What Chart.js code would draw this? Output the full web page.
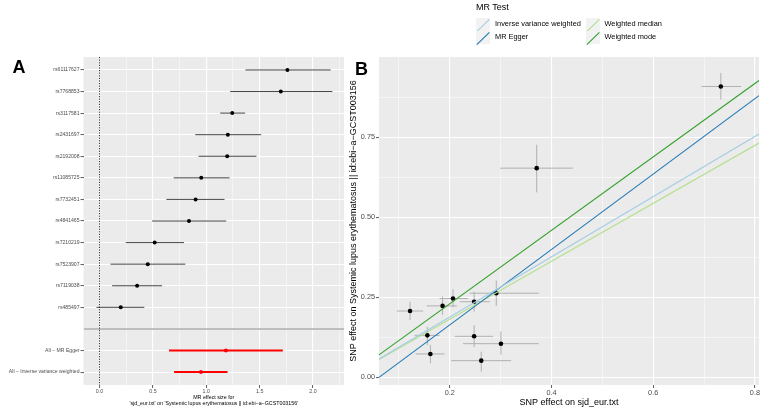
<!DOCTYPE html>
<html><head><meta charset="utf-8">
<script src="https://cdn.jsdelivr.net/npm/chart.js@4"></script>
<style>
html,body{margin:0;padding:0;background:#fff;}
body{width:763px;height:410px;position:relative;overflow:hidden;font-family:"Liberation Sans",Arial,sans-serif;}
canvas{position:absolute;top:0;}
#ca{left:0;}
#cb{left:340px;}
.t{position:absolute;white-space:nowrap;color:#000;}
.key{position:absolute;width:14px;height:13px;background:#F2F2F2;}
</style></head><body>
<canvas id="ca" width="350" height="410"></canvas>
<canvas id="cb" width="423" height="410"></canvas>
<div class="t" style="left:12.5px;top:57.6px;font-size:18px;line-height:18px;font-weight:bold;">A</div>
<div class="t" style="left:355px;top:60.3px;font-size:18px;line-height:18px;font-weight:bold;">B</div>
<div id="legend"></div>
<script>
// ---------- Panel A data (forest plot) ----------
const snpLabels = ['rs61117627','rs7768853','rs3117581','rs2431697','rs2192008','rs11085725','rs7732451','rs4841465','rs7210219','rs7523907','rs7119038','rs485497'];
const snpEffect = [1.760,1.698,1.243,1.202,1.196,0.953,0.900,0.838,0.517,0.452,0.352,0.199];
const snpLow    = [1.367,1.224,1.131,0.897,0.928,0.695,0.626,0.492,0.246,0.103,0.118,-0.028];
const snpHigh   = [2.165,2.181,1.364,1.514,1.470,1.218,1.171,1.187,0.791,0.804,0.586,0.420];
const summaryLabels = ['All \u2212 MR Egger','All \u2212 Inverse variance weighted'];
const summaryEffect = [1.184,0.950];
const summaryLow    = [0.651,0.698];
const summaryHigh   = [1.717,1.199];
const forestGrid  = [0,0.25,0.5,0.75,1,1.25,1.5,1.75,2,2.25];
const forestMajor = [0,0.5,1,1.5,2];
const forestTitle = ['MR effect size for', "'sjd_eur.txt' on 'Systemic lupus erythematosus || id:ebi\u2212a\u2212GCST003156'"];

// ---------- Panel B data (scatter) ----------
const bx   = [0.122,0.186,0.2065,0.248,0.2915,0.156,0.162,0.248,0.3007,0.262,0.371,0.733];
const by   = [0.207,0.223,0.246,0.236,0.2625,0.131,0.073,0.128,0.105,0.052,0.653,0.908];
const bxLo = [0.096,0.155,0.180,0.220,0.239,0.131,0.133,0.210,0.226,0.203,0.299,0.695];
const bxHi = [0.148,0.214,0.236,0.279,0.375,0.180,0.190,0.285,0.375,0.321,0.442,0.773];
const byLo = [0.179,0.195,0.219,0.205,0.223,0.101,0.044,0.094,0.070,0.0175,0.577,0.867];
const byHi = [0.236,0.252,0.275,0.268,0.302,0.158,0.101,0.163,0.143,0.080,0.726,0.950];
const methodNames     = ['Inverse variance weighted','MR Egger','Weighted median','Weighted mode'];
const methodSlope     = [0.940,1.177,0.905,1.147];
const methodIntercept = [0,-0.0718,0,0];
const methodColors    = ['#A6CEE3','#1F78B4','#B2DF8A','#33A02C'];
const bXGrid  = [0.1,0.2,0.3,0.4,0.5,0.6,0.7,0.8];
const bXMajor = [0.2,0.4,0.6,0.8];
const bYGrid  = [0,0.125,0.25,0.375,0.5,0.625,0.75,0.875];
const bYMajor = [0,0.25,0.5,0.75];
const bXTitle = 'SNP effect on sjd_eur.txt';
const bYTitle = 'SNP effect on Systemic lupus erythematosus || id:ebi\u2212a\u2212GCST003156';

const FONT = '"Liberation Sans", Arial, sans-serif';
const isIn = (v, arr) => arr.some(a => Math.abs(a - v) < 1e-9);

const bgPlugin = {
  id: 'panelBg',
  beforeDraw(chart) {
    const {ctx, chartArea: a} = chart;
    ctx.save();
    ctx.fillStyle = '#EBEBEB';
    ctx.fillRect(a.left, a.top, a.right - a.left, a.bottom - a.top);
    ctx.restore();
  }
};

// ---------- Panel A ----------
const rowLabels = [...snpLabels, '', ...summaryLabels];
const blankRow = snpLabels.length + 1;
const forestRows = [];
snpLabels.forEach((l, i) => forestRows.push({row: i + 1, eff: snpEffect[i], lo: snpLow[i], hi: snpHigh[i], summary: false}));
summaryLabels.forEach((l, i) => forestRows.push({row: blankRow + 1 + i, eff: summaryEffect[i], lo: summaryLow[i], hi: summaryHigh[i], summary: true}));
const yMinA = 0.4, yMaxA = rowLabels.length + 0.6;

const dsA = [];
dsA.push({
  data: forestRows.map(r => ({x: r.eff, y: r.row})),
  pointRadius: 2, pointBorderWidth: 0,
  pointBackgroundColor: forestRows.map(r => r.summary ? '#FF0000' : '#000000'),
  order: 0
});
forestRows.forEach(r => dsA.push({
  data: [{x: r.lo, y: r.row}, {x: r.hi, y: r.row}],
  showLine: true, pointRadius: 0,
  borderColor: r.summary ? '#FF0000' : 'rgba(0,0,0,0.72)',
  borderWidth: r.summary ? 2 : 1,
  order: 1
}));
dsA.push({
  data: [{x: 0, y: yMinA}, {x: 0, y: yMaxA}],
  showLine: true, pointRadius: 0, borderColor: '#000', borderWidth: 0.8,
  borderDash: [1.2, 1.4], order: 2
});

new Chart(document.getElementById('ca'), {
  type: 'scatter',
  data: {datasets: dsA},
  options: {
    responsive: false, animation: false, events: [],
    layout: {padding: {left: 0, right: 6, top: 57, bottom: 0}},
    plugins: {legend: {display: false}, tooltip: {enabled: false}},
    scales: {
      x: {
        type: 'linear', min: -0.15, max: 2.29,
        afterBuildTicks: s => { s.ticks = forestGrid.map(v => ({value: v})); },
        afterFit: s => { s.height = 25; },
        border: {display: false},
        grid: {
          color: '#FFFFFF',
          lineWidth: c => isIn(c.tick.value, forestMajor) ? 1.1 : 0.5,
          tickColor: c => isIn(c.tick.value, forestMajor) ? '#333333' : 'rgba(0,0,0,0)',
          tickLength: 3, tickWidth: 0.8
        },
        ticks: {
          autoSkip: false, maxRotation: 0, padding: 0.5, color: '#4D4D4D',
          font: {family: FONT, size: 5.3},
          callback: v => isIn(v, forestMajor) ? v.toFixed(1) : ''
        },
        title: {display: true, text: forestTitle, color: '#000', font: {family: FONT, size: 5.3, lineHeight: '6px'}, padding: {top: 0, bottom: 3.7}}
      },
      y: {
        type: 'linear', reverse: true, min: yMinA, max: yMaxA,
        afterBuildTicks: s => { s.ticks = rowLabels.map((l, i) => ({value: i + 1})); },
        afterFit: s => { s.width = 83.5; },
        border: {display: false},
        grid: {
          color: c => c.tick.value === blankRow ? '#BEBEBE' : '#FFFFFF',
          lineWidth: c => c.tick.value === blankRow ? 2 : 1.1,
          tickColor: c => c.tick.value === blankRow ? 'rgba(0,0,0,0)' : '#333333',
          tickLength: 3, tickWidth: 0.8
        },
        ticks: {
          autoSkip: false, padding: 1, color: '#4D4D4D',
          font: {family: FONT, size: 5.1},
          callback: v => rowLabels[Math.round(v) - 1] || ''
        }
      }
    }
  },
  plugins: [bgPlugin]
});

// ---------- Panel B ----------
const xMinB = 0.061, xMaxB = 0.808, yMinB = -0.024, yMaxB = 1.0;
const dsB = [];
methodNames.forEach((m, i) => dsB.push({
  label: m,
  data: [{x: xMinB, y: methodIntercept[i] + methodSlope[i] * xMinB}, {x: xMaxB, y: methodIntercept[i] + methodSlope[i] * xMaxB}],
  showLine: true, pointRadius: 0, borderColor: methodColors[i], borderWidth: 1.1, order: 0
}));
dsB.push({
  data: bx.map((v, i) => ({x: v, y: by[i]})),
  pointRadius: 2.3, pointBorderWidth: 0, pointBackgroundColor: '#000', order: 1
});
bx.forEach((v, i) => {
  dsB.push({data: [{x: bxLo[i], y: by[i]}, {x: bxHi[i], y: by[i]}], showLine: true, pointRadius: 0, borderColor: '#B0B0B0', borderWidth: 1, order: 2});
  dsB.push({data: [{x: v, y: byLo[i]}, {x: v, y: byHi[i]}], showLine: true, pointRadius: 0, borderColor: '#B0B0B0', borderWidth: 1, order: 2});
});

new Chart(document.getElementById('cb'), {
  type: 'scatter',
  data: {datasets: dsB},
  options: {
    responsive: false, animation: false, events: [],
    layout: {padding: {left: 0, right: 3, top: 57, bottom: 0}},
    plugins: {legend: {display: false}, tooltip: {enabled: false}},
    scales: {
      x: {
        type: 'linear', min: xMinB, max: xMaxB,
        afterBuildTicks: s => { s.ticks = bXGrid.map(v => ({value: v})); },
        afterFit: s => { s.height = 25; },
        border: {display: false},
        grid: {
          color: '#FFFFFF',
          lineWidth: c => isIn(c.tick.value, bXMajor) ? 1.1 : 0.5,
          tickColor: c => isIn(c.tick.value, bXMajor) ? '#333333' : 'rgba(0,0,0,0)',
          tickLength: 3, tickWidth: 0.8
        },
        ticks: {
          autoSkip: false, maxRotation: 0, padding: 1, color: '#4D4D4D',
          font: {family: FONT, size: 7.3},
          callback: v => isIn(v, bXMajor) ? v.toFixed(1) : ''
        },
        title: {display: true, text: bXTitle, color: '#000', font: {family: FONT, size: 9}, padding: {top: 0, bottom: 2}}
      },
      y: {
        type: 'linear', min: yMinB, max: yMaxB,
        afterBuildTicks: s => { s.ticks = bYGrid.map(v => ({value: v})); },
        afterFit: s => { s.width = 39; },
        border: {display: false},
        grid: {
          color: '#FFFFFF',
          lineWidth: c => isIn(c.tick.value, bYMajor) ? 1.1 : 0.5,
          tickColor: c => isIn(c.tick.value, bYMajor) ? '#333333' : 'rgba(0,0,0,0)',
          tickLength: 3, tickWidth: 0.8
        },
        ticks: {
          autoSkip: false, padding: 1, color: '#4D4D4D',
          font: {family: FONT, size: 7.3},
          callback: v => isIn(v, bYMajor) ? v.toFixed(2) : ''
        },
        title: {display: true, text: bYTitle, color: '#000', font: {family: FONT, size: 9}, padding: {top: 8.6, bottom: 0}}
      }
    }
  },
  plugins: [bgPlugin]
});

// ---------- Legend (HTML text) ----------
const legend = document.getElementById('legend');
const legendSlots = [
  {left: 476, keyTop: 17.5, textLeft: 495, textTop: 20.3},
  {left: 476, keyTop: 30.5, textLeft: 495, textTop: 33.3},
  {left: 586, keyTop: 17.5, textLeft: 604.5, textTop: 20.3},
  {left: 586, keyTop: 30.5, textLeft: 604.5, textTop: 33.3}
];
let html = '<div class="t" style="left:476px;top:2.6px;font-size:9px;line-height:9px;">MR Test</div>';
methodNames.forEach((m, i) => {
  const s = legendSlots[i];
  html += '<div class="key" style="left:' + s.left + 'px;top:' + s.keyTop + 'px;"><svg width="14" height="13"><line x1="0.8" y1="12.6" x2="13.4" y2="0.4" stroke="' + methodColors[i] + '" stroke-width="1.1"/></svg></div>';
  html += '<div class="t" style="left:' + s.textLeft + 'px;top:' + s.textTop + 'px;font-size:7.4px;line-height:7.4px;">' + m + '</div>';
});
legend.innerHTML = html;
</script>
</body></html>
